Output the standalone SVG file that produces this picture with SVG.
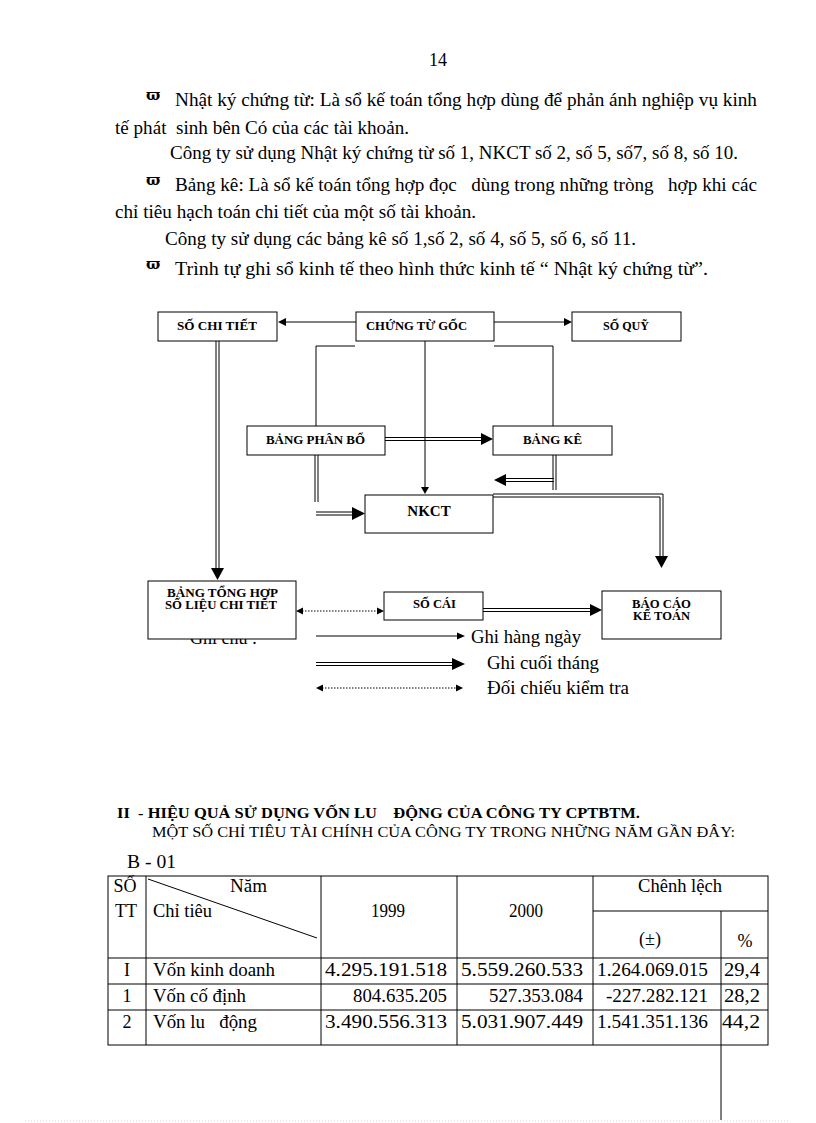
<svg xmlns="http://www.w3.org/2000/svg" width="816" height="1123" viewBox="0 0 816 1123">
<style>
  .t{font-family:"Liberation Serif","Times New Roman",serif;font-size:18px;fill:#000;white-space:pre}
  .sym{font-family:"DejaVu Serif","Liberation Serif",serif;font-size:15px;font-weight:bold;fill:#000}
  .b{font-family:"Liberation Serif","Times New Roman",serif;font-size:12px;font-weight:bold;fill:#000}
  .box{fill:#fff;stroke:#000;stroke-width:1}
  .ln{fill:none;stroke:#000;stroke-width:1}
  .dot{fill:none;stroke:#000;stroke-width:1;stroke-dasharray:1.5 1.5}
  .ah{fill:#000}
  .grid{fill:none;stroke:#000;stroke-width:1}
</style>
<rect x="0" y="0" width="816" height="1123" fill="#fff"/>

<g id="page-text">
  <text class="t" x="438" y="66" text-anchor="middle">14</text>
  <text class="sym" x="146" y="100">ϖ</text>
  <text class="t" x="175" y="106" textLength="582" lengthAdjust="spacingAndGlyphs">Nhật ký chứng từ: Là sổ kế toán tổng hợp dùng để phản ánh nghiệp vụ kinh</text>
  <text class="t" x="115" y="134" textLength="294" lengthAdjust="spacingAndGlyphs">tế phát  sinh bên Có của các tài khoản.</text>
  <text class="t" x="170" y="159" textLength="568" lengthAdjust="spacingAndGlyphs">Công ty sử dụng Nhật ký chứng từ số 1, NKCT số 2, số 5, số7, số 8, số 10.</text>
  <text class="sym" x="146" y="185">ϖ</text>
  <text class="t" x="175" y="191" textLength="582" lengthAdjust="spacingAndGlyphs">Bảng kê: Là sổ kế toán tổng hợp đọc   dùng trong những tròng   hợp khi các</text>
  <text class="t" x="115" y="218" textLength="361" lengthAdjust="spacingAndGlyphs">chỉ tiêu hạch toán chi tiết của một số tài khoản.</text>
  <text class="t" x="165" y="245" textLength="471" lengthAdjust="spacingAndGlyphs">Công ty sử dụng các bảng kê số 1,số 2, số 4, số 5, số 6, số 11.</text>
  <text class="sym" x="146" y="269">ϖ</text>
  <text class="t" x="175" y="275" textLength="533" lengthAdjust="spacingAndGlyphs">Trình tự ghi sổ kinh tế theo hình thức kinh tế “ Nhật ký chứng từ”.</text>
</g>

<text class="t" x="190" y="644">Ghi chú :</text>

<g id="connectors">
  <line class="ln" x1="356" y1="322" x2="284" y2="322"/>
  <polygon class="ah" points="278,322 286,318 286,326"/>
  <line class="ln" x1="494" y1="322" x2="566" y2="322"/>
  <polygon class="ah" points="572,322 564,318 564,326"/>
  <polyline class="ln" points="355,346 316,346 316,434"/>
  <polygon class="ah" points="312,434 320,434 316,441"/>
  <line class="ln" x1="315" y1="455" x2="315" y2="502"/>
  <line class="ln" x1="318" y1="455" x2="318" y2="502"/>
  <line class="ln" x1="316" y1="512" x2="353" y2="512"/>
  <line class="ln" x1="316" y1="515" x2="353" y2="515"/>
  <polygon class="ah" points="352,507 365,513.5 352,520"/>
  <line class="ln" x1="385" y1="437.5" x2="482" y2="437.5"/>
  <line class="ln" x1="385" y1="440.5" x2="482" y2="440.5"/>
  <polygon class="ah" points="481,433 493,439 481,445"/>
  <polyline class="ln" points="494,346 553,346 553,434"/>
  <polygon class="ah" points="549,434 557,434 553,441"/>
  <line class="ln" x1="553" y1="455" x2="553" y2="490"/>
  <line class="ln" x1="556" y1="455" x2="556" y2="490"/>
  <line class="ln" x1="554" y1="478.5" x2="505" y2="478.5"/>
  <line class="ln" x1="554" y1="481.5" x2="505" y2="481.5"/>
  <polygon class="ah" points="506,474 494,480 506,486"/>
  <line class="ln" x1="425" y1="341" x2="425" y2="488"/>
  <polygon class="ah" points="421,487 429,487 425,494"/>
  <polyline class="ln" points="493,494 663,494 663,557"/>
  <polyline class="ln" points="493,497 660,497 660,557"/>
  <polygon class="ah" points="655,556 668,556 661.5,568"/>
  <line class="ln" x1="216" y1="341" x2="216" y2="569"/>
  <line class="ln" x1="219" y1="341" x2="219" y2="569"/>
  <polygon class="ah" points="211,568 224,568 217.5,580"/>
  <line class="dot" x1="302" y1="611" x2="378" y2="611"/>
  <polygon class="ah" points="296,611 303,607.5 303,614.5"/>
  <polygon class="ah" points="384,611 377,607.5 377,614.5"/>
  <line class="ln" x1="483" y1="608.5" x2="591" y2="608.5"/>
  <line class="ln" x1="483" y1="611.5" x2="591" y2="611.5"/>
  <polygon class="ah" points="590,604 602,610 590,616"/>
  <line class="ln" x1="316" y1="636" x2="458" y2="636"/>
  <polygon class="ah" points="457,632.5 465,636 457,639.5"/>
  <line class="ln" x1="316" y1="662.5" x2="453" y2="662.5"/>
  <line class="ln" x1="316" y1="665.5" x2="453" y2="665.5"/>
  <polygon class="ah" points="452,658 465,664 452,670"/>
  <line class="dot" x1="322" y1="688" x2="457" y2="688"/>
  <polygon class="ah" points="316,688 323,684.5 323,691.5"/>
  <polygon class="ah" points="463,688 456,684.5 456,691.5"/>
</g>

<g id="so-chi-tiet">
  <rect class="box" x="158" y="312" width="119" height="29"/>
  <text class="b" x="177" y="330" textLength="80" lengthAdjust="spacingAndGlyphs">SỐ CHI TIẾT</text>
</g>
<g id="chung-tu-goc">
  <rect class="box" x="356" y="312" width="138" height="29"/>
  <text class="b" x="366" y="330" textLength="101" lengthAdjust="spacingAndGlyphs">CHỨNG TỪ GỐC</text>
</g>
<g id="so-quy">
  <rect class="box" x="572" y="312" width="109" height="29"/>
  <text class="b" x="603" y="330" textLength="46" lengthAdjust="spacingAndGlyphs">SỐ QUỸ</text>
</g>
<g id="bang-phan-bo">
  <rect class="box" x="247" y="426" width="138" height="29"/>
  <text class="b" x="266" y="444" textLength="99" lengthAdjust="spacingAndGlyphs">BẢNG PHÂN BỔ</text>
</g>
<g id="bang-ke">
  <rect class="box" x="493" y="426" width="119" height="29"/>
  <text class="b" x="523" y="444" textLength="59" lengthAdjust="spacingAndGlyphs">BẢNG KÊ</text>
</g>
<g id="nkct">
  <rect class="box" x="365" y="495" width="128" height="38"/>
  <text class="b" x="429" y="516" text-anchor="middle" style="font-size:15px">NKCT</text>
</g>
<g id="bang-tong-hop">
  <rect class="box" x="148" y="581" width="148" height="58"/>
  <text class="b" x="167" y="597" textLength="111" lengthAdjust="spacingAndGlyphs">BẢNG TỔNG HỢP</text>
  <text class="b" x="165" y="609" textLength="112" lengthAdjust="spacingAndGlyphs">SỐ LIỆU CHI TIẾT</text>
</g>
<g id="so-cai">
  <rect class="box" x="384" y="592" width="99" height="28"/>
  <text class="b" x="413" y="608" textLength="43" lengthAdjust="spacingAndGlyphs">SỐ CÁI</text>
</g>
<g id="bao-cao">
  <rect class="box" x="602" y="591" width="119" height="48"/>
  <text class="b" x="632" y="608" textLength="59" lengthAdjust="spacingAndGlyphs">BÁO CÁO</text>
  <text class="b" x="633" y="620" textLength="57" lengthAdjust="spacingAndGlyphs">KẾ TOÁN</text>
</g>

<g id="legend-text">
  <text class="t" x="471" y="643" textLength="110" lengthAdjust="spacingAndGlyphs">Ghi hàng ngày</text>
  <text class="t" x="487" y="669" textLength="112" lengthAdjust="spacingAndGlyphs">Ghi cuối tháng</text>
  <text class="t" x="487" y="694" textLength="142" lengthAdjust="spacingAndGlyphs">Đối chiếu kiểm tra</text>
</g>

<g id="section">
  <text class="t" x="117" y="818" textLength="523" lengthAdjust="spacingAndGlyphs" style="font-size:15px;font-weight:bold">II  - HIỆU QUẢ SỬ DỤNG VỐN LU    ĐỘNG CỦA CÔNG TY CPTBTM.</text>
  <text class="t" x="152" y="837" textLength="583" lengthAdjust="spacingAndGlyphs" style="font-size:14px">MỘT SỐ CHỈ TIÊU TÀI CHÍNH CỦA CÔNG TY TRONG NHỮNG NĂM GẦN ĐÂY:</text>
  <text class="t" x="127" y="868" textLength="49" lengthAdjust="spacingAndGlyphs">B - 01</text>
</g>

<g id="table">
  <rect class="grid" x="108" y="876" width="660" height="169"/>
  <line class="grid" x1="146" y1="876" x2="146" y2="1045"/>
  <line class="grid" x1="321" y1="876" x2="321" y2="1045"/>
  <line class="grid" x1="457" y1="876" x2="457" y2="1045"/>
  <line class="grid" x1="593" y1="876" x2="593" y2="1045"/>
  <line class="grid" x1="593" y1="911" x2="768" y2="911"/>
  <line class="grid" x1="721" y1="911" x2="721" y2="1120"/>
  <line class="grid" x1="108" y1="958" x2="768" y2="958"/>
  <line class="grid" x1="108" y1="984" x2="768" y2="984"/>
  <line class="grid" x1="108" y1="1010" x2="768" y2="1010"/>
  <line class="grid" x1="148" y1="879" x2="317" y2="938"/>
  <text class="t" x="125" y="892" text-anchor="middle">SỐ</text>
  <text class="t" x="126" y="917" text-anchor="middle">TT</text>
  <text class="t" x="230" y="892" textLength="37" lengthAdjust="spacingAndGlyphs">Năm</text>
  <text class="t" x="153" y="917" textLength="59" lengthAdjust="spacingAndGlyphs">Chỉ tiêu</text>
  <text class="t" x="371" y="917" textLength="34" lengthAdjust="spacingAndGlyphs">1999</text>
  <text class="t" x="509" y="917" textLength="34" lengthAdjust="spacingAndGlyphs">2000</text>
  <text class="t" x="638" y="892" textLength="84" lengthAdjust="spacingAndGlyphs">Chênh lệch</text>
  <text class="t" x="650" y="945" text-anchor="middle">(±)</text>
  <text class="t" x="745" y="947" text-anchor="middle">%</text>

  <text class="t" x="127" y="976" text-anchor="middle">I</text>
  <text class="t" x="153" y="976" textLength="122" lengthAdjust="spacingAndGlyphs">Vốn kinh doanh</text>
  <text class="t" x="325" y="976" textLength="122" lengthAdjust="spacingAndGlyphs">4.295.191.518</text>
  <text class="t" x="461" y="976" textLength="122" lengthAdjust="spacingAndGlyphs">5.559.260.533</text>
  <text class="t" x="597" y="976" textLength="111" lengthAdjust="spacingAndGlyphs">1.264.069.015</text>
  <text class="t" x="724" y="976" textLength="36" lengthAdjust="spacingAndGlyphs">29,4</text>

  <text class="t" x="127" y="1002" text-anchor="middle">1</text>
  <text class="t" x="153" y="1002" textLength="93" lengthAdjust="spacingAndGlyphs">Vốn cố định</text>
  <text class="t" x="353" y="1002" textLength="94" lengthAdjust="spacingAndGlyphs">804.635.205</text>
  <text class="t" x="489" y="1002" textLength="94" lengthAdjust="spacingAndGlyphs">527.353.084</text>
  <text class="t" x="606" y="1002" textLength="102" lengthAdjust="spacingAndGlyphs">-227.282.121</text>
  <text class="t" x="724" y="1002" textLength="36" lengthAdjust="spacingAndGlyphs">28,2</text>

  <text class="t" x="127" y="1028" text-anchor="middle">2</text>
  <text class="t" x="153" y="1028" textLength="104" lengthAdjust="spacingAndGlyphs">Vốn lu   động</text>
  <text class="t" x="325" y="1028" textLength="122" lengthAdjust="spacingAndGlyphs">3.490.556.313</text>
  <text class="t" x="461" y="1028" textLength="122" lengthAdjust="spacingAndGlyphs">5.031.907.449</text>
  <text class="t" x="597" y="1028" textLength="111" lengthAdjust="spacingAndGlyphs">1.541.351.136</text>
  <text class="t" x="722" y="1028" textLength="38" lengthAdjust="spacingAndGlyphs">44,2</text>
</g>

<line x1="25" y1="1121" x2="790" y2="1121" stroke="#f4c8dc" stroke-width="1" stroke-dasharray="1 2"/>
</svg>
